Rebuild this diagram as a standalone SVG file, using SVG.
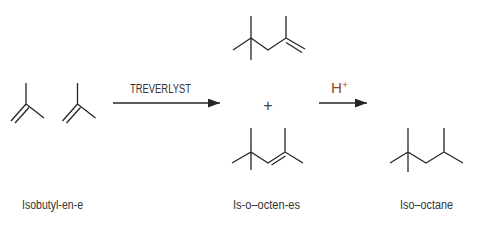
<svg xmlns="http://www.w3.org/2000/svg" width="479" height="225" viewBox="0 0 479 225">
<defs>
<style>
.b{stroke:#262626;stroke-width:1.3;fill:none;stroke-linecap:butt}
.t{font-family:"Liberation Sans",Arial,sans-serif;font-size:12.5px;fill:#333}
.a{stroke:#262626;stroke-width:1.4;fill:none}
</style>
<marker id="ah" markerWidth="12" markerHeight="9" refX="12" refY="4.5" orient="auto" markerUnits="userSpaceOnUse">
<path d="M0,0 L12,4.5 L0,9 Z" fill="#262626"/>
</marker>
</defs>
<rect width="479" height="225" fill="#fff"/>
<g id="isobutylene1">
<path class="b" d="M26,83 L26,104 L44,118 M26,104 L11,121 M29,107.5 L15,123"/>
</g>
<g id="isobutylene2">
<path class="b" d="M77.5,83 L77.5,104 L95.5,118 M77.5,104 L62.5,121 M80.5,107.5 L66.5,123"/>
</g>
<g id="diisobutylene1">
<path class="b" d="M251,16 L251,60 M233,50 L251,38 L268,50 L286,38 L286,16 M286,38 L305,49 M286,42.5 L302,52.5"/>
</g>
<g id="plus">
<text x="268" y="111" text-anchor="middle" style="font-family:'Liberation Sans',Arial,sans-serif;font-size:16px;fill:#444">+</text>
</g>
<g id="diisobutylene2">
<path class="b" d="M251,128 L251,170 M232,163 L251,152 L268,163 L285,152 L285,128 M285,152 L303,163 M271.5,165 L285.5,156"/>
</g>
<g id="isooctane">
<path class="b" d="M408,128 L408,172 M390,163 L408,152 L426,163 L444,152 L444,128 M444,152 L463,163"/>
</g>
<g id="connectors">
<line class="a" x1="113" y1="103" x2="220" y2="103" marker-end="url(#ah)"/>
<line class="a" x1="319" y1="103" x2="367" y2="103" marker-end="url(#ah)"/>
</g>
<text class="t" x="130" y="93" textLength="61" lengthAdjust="spacingAndGlyphs">TREVERLYST</text>
<text x="331" y="93" style="font-family:'Liberation Sans',Arial,sans-serif;font-size:14px;fill:#8a4a2c" textLength="11" lengthAdjust="spacingAndGlyphs">H</text>
<text x="342.5" y="88" style="font-family:'Liberation Sans',Arial,sans-serif;font-size:9px;fill:#8a4a2c">+</text>
<text class="t" x="22" y="209" textLength="61" lengthAdjust="spacingAndGlyphs">Isobutyl-en-e</text>
<text class="t" x="233" y="209" textLength="67" lengthAdjust="spacingAndGlyphs">Is-o–octen-es</text>
<text class="t" x="400" y="209" textLength="53" lengthAdjust="spacingAndGlyphs">Iso–octane</text>
</svg>
